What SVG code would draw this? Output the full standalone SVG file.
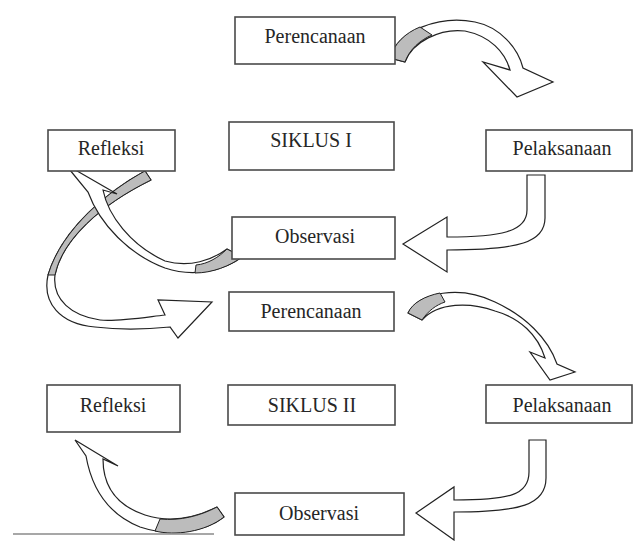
<svg xmlns="http://www.w3.org/2000/svg" width="633" height="541" viewBox="0 0 633 541">
<style>
.box{fill:#fff;stroke:#4a4a4a;stroke-width:1.6}
.lbl{font-family:"Liberation Serif","Times New Roman",serif;font-size:20px;fill:#262626;text-anchor:middle}
.arr{fill:#fff;stroke:#222;stroke-width:1.2;stroke-linejoin:miter}
.sh{fill:#bcbcbc;stroke:#222;stroke-width:1}
</style>
<rect width="633" height="541" fill="#fff"/>
<g id="connectors">
  <!-- Perencanaan 1 -> Pelaksanaan 1 -->
  <path class="arr" d="M390,58 C398,30 440,15 475,22 C500,27 518,48 523,68 L553,82 L517,97 L483,62 L510,70 C505,52 490,36 465,31 C440,28 412,42 405,62 Z"/>
  <path class="sh" d="M390,58 C394,44 405,33 420,27 L432,35 C420,40 409,50 405,62 Z"/>
  <!-- Pelaksanaan 1 -> Observasi 1 -->
  <path class="arr" d="M527,175 L545,175 L545,218 C545,242 520,250 447,250 L447,272 L403,244 L447,217 L447,237 C500,237 527,232 527,210 Z"/>
  <!-- Refleksi 1 -> Perencanaan 2 -->
  <path class="arr" d="M145,171 C110,190 62,228 48,275 C42,303 60,324 95,327 C120,330 150,329 170,327 L178,338 L212,302 L158,300 L165,315 C140,318 115,322 100,320 C72,316 52,300 55,275 C62,240 100,205 151,180 Z"/>
  <path class="sh" d="M145,171 C110,190 62,228 48,275 L55,275 C62,240 100,205 151,180 Z"/>
  <!-- Observasi 1 -> Refleksi 1 -->
  <path class="arr" d="M227,249 L242,257 C225,270 195,278 165,268 C130,255 100,225 88,192 L65,164 L117,194 L103,190 C108,215 130,245 165,261 C190,268 212,260 227,249 Z"/>
  <path class="sh" d="M227,249 L242,257 C230,266 212,273 195,273 L196,265 C208,264 219,257 227,249 Z"/>
  <!-- Perencanaan 2 -> Pelaksanaan 2 -->
  <path class="arr" d="M408,313 C420,292 460,285 495,302 C525,316 548,338 557,364 L575,372 L550,380 L530,352 L545,358 C538,335 520,318 495,311 C470,302 438,302 422,320 Z"/>
  <path class="sh" d="M408,313 C412,303 425,296 440,293 L445,302 C436,305 428,311 422,320 Z"/>
  <!-- Pelaksanaan 2 -> Observasi 2 -->
  <path class="arr" d="M529,440 L546,440 L546,478 C546,505 520,512 454,512 L454,540 L416,513 L454,487 L454,500 C510,500 529,495 529,472 Z"/>
  <!-- Observasi 2 -> Refleksi 2 -->
  <path class="arr" d="M217,507 L224,517 C205,532 170,537 140,527 C110,515 92,490 86,456 L75,440 L118,466 L103,459 C103,485 115,505 145,515 C170,523 195,518 217,507 Z"/>
  <path class="sh" d="M217,507 L224,517 C205,532 175,536 155,531 L160,519 C180,521 200,516 217,507 Z"/>
  <line x1="13" y1="534" x2="214" y2="534" stroke="#8a8a8a" stroke-width="1.6"/>
</g>
<g id="perencanaan1"><rect class="box" x="235" y="17" width="160" height="47"/><text class="lbl" x="315" y="43">Perencanaan</text></g>
<g id="siklus1"><rect class="box" x="229" y="122" width="165" height="48"/><text class="lbl" x="311" y="147">SIKLUS I</text></g>
<g id="refleksi1"><rect class="box" x="48" y="130" width="127" height="41"/><text class="lbl" x="111" y="155">Refleksi</text></g>
<g id="pelaksanaan1"><rect class="box" x="486" y="130" width="146" height="41"/><text class="lbl" x="562" y="155">Pelaksanaan</text></g>
<g id="observasi1"><rect class="box" x="232" y="217" width="163" height="42"/><text class="lbl" x="315" y="243">Observasi</text></g>
<g id="perencanaan2"><rect class="box" x="229" y="292" width="165" height="39"/><text class="lbl" x="311" y="318">Perencanaan</text></g>
<g id="refleksi2"><rect class="box" x="47" y="385" width="133" height="47"/><text class="lbl" x="113" y="412">Refleksi</text></g>
<g id="siklus2"><rect class="box" x="228" y="385" width="167" height="40"/><text class="lbl" x="312" y="412">SIKLUS II</text></g>
<g id="pelaksanaan2"><rect class="box" x="486" y="385" width="146" height="38"/><text class="lbl" x="562" y="412">Pelaksanaan</text></g>
<g id="observasi2"><rect class="box" x="235" y="493" width="169" height="42"/><text class="lbl" x="319" y="520">Observasi</text></g>
</svg>
